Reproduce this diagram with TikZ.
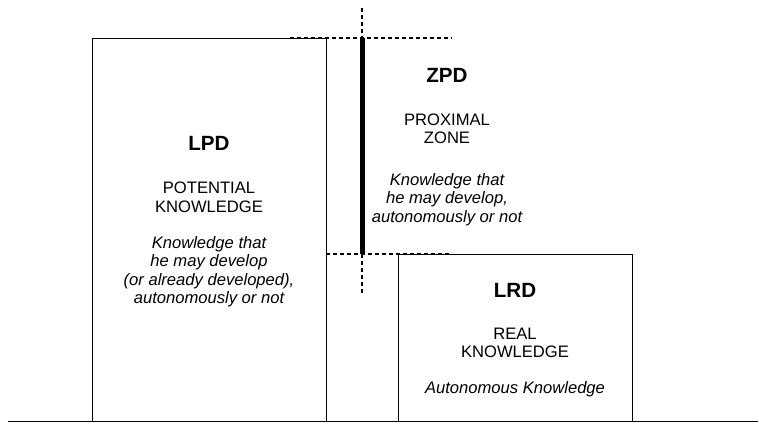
\documentclass[tikz,border=0pt]{standalone}
\usepackage{fontspec}
\setmainfont{Liberation Sans}
\usetikzlibrary{positioning}

\begin{document}
\begin{tikzpicture}[x=0.5pt,y=-0.5pt,
    level/.style={draw, line width=0.5pt, minimum width=117pt, inner sep=0pt, anchor=north west},
    title/.style={font=\fontsize{10.3}{12}\selectfont\bfseries},
    caps/.style={font=\fontsize{8.3}{9.25}\selectfont, align=center, inner sep=0pt},
    note/.style={font=\fontsize{8.3}{9.25}\selectfont\itshape, align=center, inner sep=0pt},
    limit/.style={line width=1pt, dash pattern=on 2pt off 1.5pt}]
    \useasboundingbox (0,0) rectangle (758,422);

    % Levels
    \node[level, minimum height=191.5pt] (lpd) at (92,38) {};
    \node[level, minimum height=83.5pt] (lrd) at (398,254) {};

    % Ground line
    \coordinate (groundleft) at (8,421);
    \coordinate (groundright) at (758,421);
    \draw[line width=0.5pt] (groundleft) -- (groundright);

    % Zone limits
    \coordinate (zpdtop) at (362,8);
    \coordinate (zpdhigh) at (362,38);
    \coordinate (zpdlow) at (362,254);
    \coordinate (zpdbottom) at (362,296);
    \coordinate (highleft) at (290,38);
    \coordinate (highright) at (452,38);
    \coordinate (lowleft) at (326,254);
    \coordinate (lowright) at (452,254);
    \draw[limit] (highleft) -- (highright);
    \draw[limit] (lowleft) -- (lowright);
    \draw[limit] (zpdtop) -- (zpdhigh);
    \draw[limit] (zpdlow) -- (zpdbottom);
    \draw[line width=2.5pt] (zpdhigh) -- (zpdlow);

    % Texts
    \node[title] (lpdtitle) at (209,143) {LPD};
    \node[caps] (lpdcaps) at (209,197.5) {POTENTIAL\\KNOWLEDGE};
    \node[note] (lpdnote) at (209,271.5) {Knowledge that\\he may develop\\(or already developed),\\autonomously or not};

    \node[title] (zpdtitle) at (447,75) {ZPD};
    \node[caps] (zpdcaps) at (447,129) {PROXIMAL\\ZONE};
    \node[note] (zpdnote) at (447,199.5) {Knowledge that\\he may develop,\\autonomously or not};

    \node[title] (lrdtitle) at (515,290) {LRD};
    \node[caps] (lrdcaps) at (515,343) {REAL\\KNOWLEDGE};
    \node[note] (lrdnote) at (515,389) {Autonomous Knowledge};
\end{tikzpicture}
\end{document}
